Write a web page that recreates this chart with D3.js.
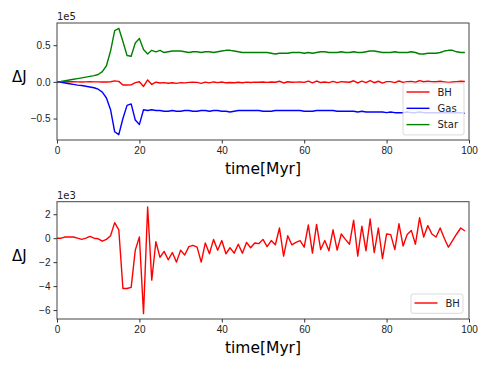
<!DOCTYPE html>
<html>
<head>
<meta charset="utf-8">
<script src="https://cdn.jsdelivr.net/npm/d3@7"></script>
<style>
  body{margin:0;background:#fff;}
  svg{font-family:"DejaVu Sans",sans-serif;}
  .tick text{font-size:10px;fill:#222;}
  .tick line{stroke:#333;}
  .domain{display:none;}
</style>
</head>
<body>
<div class="fig"></div>
<script>
/*time axis, 1 Myr steps*/
var time=d3.range(0,100);

/*BH angular momentum change, units of 1e3*/
var bh=[0,0,0.1,0.1,0.1,0,-0.1,0,0.15,0,
  -0.05,-0.25,-0.1,0.2,1.3,0.7,-4.2,-4.2,-4.1,-1.0,
  0.1,-6.3,2.6,-3.5,-0.3,-1.6,-1.1,-1.8,-1.2,-2.0,
  -1.0,-1.4,-0.7,-0.6,-0.75,-2.0,-0.4,-1.3,-0.1,-1.0,
  -0.2,-1.3,-0.8,-1.25,-0.5,-1.25,-0.35,-0.8,-0.4,-0.45,
  -0.1,-0.7,-0.2,-0.55,0.85,-1.5,0.2,-0.55,-0.35,-0.2,
  -0.75,1.1,-1.25,1.15,-0.95,-0.2,-1.05,0.7,-1.0,0.35,
  -0.1,-0.5,1.5,-1.5,1.0,-1.05,1.6,-1.2,0.85,-1.7,
  0.35,0.3,-0.95,1.2,-0.65,0.3,0.65,-0.5,1.7,0.1,
  1.05,0.35,0.1,0.85,0.0,-0.75,-0.2,0.35,0.85,0.6];

/*Gas and Star, units of 1e5*/
var gas=[0,-0.005,-0.015,-0.025,-0.035,-0.045,-0.05,-0.06,-0.07,-0.08,
  -0.10,-0.14,-0.22,-0.38,-0.68,-0.72,-0.50,-0.32,-0.30,-0.52,
  -0.58,-0.38,-0.39,-0.38,-0.39,-0.39,-0.40,-0.40,-0.39,-0.40,
  -0.40,-0.39,-0.39,-0.40,-0.40,-0.39,-0.39,-0.40,-0.39,-0.39,
  -0.40,-0.40,-0.41,-0.40,-0.39,-0.39,-0.39,-0.39,-0.39,-0.39,
  -0.40,-0.40,-0.40,-0.39,-0.39,-0.39,-0.39,-0.39,-0.39,-0.39,
  -0.40,-0.40,-0.40,-0.39,-0.39,-0.39,-0.39,-0.39,-0.40,-0.40,
  -0.40,-0.40,-0.40,-0.41,-0.40,-0.41,-0.41,-0.41,-0.41,-0.41,
  -0.42,-0.41,-0.42,-0.42,-0.42,-0.41,-0.42,-0.42,-0.41,-0.42,
  -0.42,-0.42,-0.42,-0.42,-0.42,-0.42,-0.42,-0.42,-0.42,-0.43];

var star=[0,0.005,0.015,0.025,0.035,0.045,0.055,0.065,0.075,0.085,
  0.10,0.14,0.22,0.42,0.70,0.73,0.55,0.36,0.35,0.53,
  0.59,0.44,0.38,0.43,0.41,0.43,0.40,0.41,0.42,0.42,
  0.42,0.41,0.40,0.41,0.41,0.40,0.41,0.41,0.40,0.41,
  0.42,0.43,0.43,0.42,0.41,0.40,0.40,0.40,0.40,0.40,
  0.40,0.40,0.39,0.38,0.39,0.39,0.39,0.40,0.40,0.40,
  0.39,0.40,0.39,0.40,0.41,0.41,0.40,0.40,0.40,0.41,
  0.40,0.40,0.41,0.40,0.40,0.41,0.42,0.42,0.41,0.40,
  0.40,0.40,0.41,0.40,0.40,0.40,0.41,0.40,0.38,0.38,
  0.39,0.39,0.39,0.40,0.42,0.43,0.43,0.41,0.40,0.40];

var xTicks=[0,20,40,60,80,100];
var topTicks=[-0.5,0,0.5];
var botTicks=[-6,-4,-2,0,2];

var width=490, height=368;
var left=57, right=469;

var canvas=d3.select(".fig").append("svg")
  .attr("width", width)
  .attr("height", height);

var xScale=d3.scaleLinear().domain([0,100]).range([left,right]);

/*matplotlib style 5% padding*/
function padded(arr){
  var e=d3.extent(arr), m=(e[1]-e[0])*0.05;
  return [e[0]-m, e[1]+m];
}

var minus=function(s){return s.replace("-","\u2212");};

function panel(top, bottom, domain, ticks, fmt, exp, series, legendY){
  var yScale=d3.scaleLinear().domain(domain).range([bottom, top]);
  var g=canvas.append("g");

  var line=d3.line()
    .x(function(d,i){return xScale(time[i]);})
    .y(function(d){return yScale(d);});

  g.append("defs").append("clipPath").attr("id","clip"+top)
    .append("rect").attr("x",left).attr("y",top)
    .attr("width",right-left).attr("height",bottom-top);

  series.forEach(function(s){
    g.append("path")
      .datum(s.values)
      .attr("d", line)
      .attr("clip-path","url(#clip"+top+")")
      .attr("fill","none")
      .attr("stroke", s.color)
      .attr("stroke-width",1.4)
      .attr("stroke-linejoin","round");
  });

  g.append("rect")
    .attr("x",left).attr("y",top)
    .attr("width",right-left).attr("height",bottom-top)
    .attr("fill","none").attr("stroke","#444").attr("stroke-width",1);

  g.append("g")
    .attr("transform","translate(0,"+bottom+")")
    .call(d3.axisBottom(xScale).tickValues(xTicks).tickSize(3.5).tickPadding(3));

  g.append("g")
    .attr("transform","translate("+left+",0)")
    .call(d3.axisLeft(yScale).tickValues(ticks).tickSize(3.5).tickPadding(3)
      .tickFormat(function(d){return minus(fmt(d));}));

  g.append("text").text(exp)
    .attr("x",left).attr("y",top-3)
    .style("font-size","10px").style("fill","#222");

  g.append("text").text("\u0394J")
    .attr("x",12).attr("y",(top+bottom)/2+0.5)
    .style("font-size","15px");

  g.append("text").text("time[Myr]")
    .attr("x",(left+right)/2).attr("y",bottom+34)
    .attr("text-anchor","middle")
    .style("font-size","15.5px");

  /*legend*/
  var lw=(series.length==1)? 52:61;
  var lx=(series.length==1)? 411:403;
  var lh=series.length*16.3+3;
  var lg=g.append("g");
  lg.append("rect")
    .attr("x",lx).attr("y",legendY)
    .attr("width",lw).attr("height",lh)
    .attr("rx",2)
    .attr("fill","rgba(255,255,255,0.8)")
    .attr("stroke","#d0d0d0").attr("stroke-width",0.8);
  series.forEach(function(s,i){
    var y=legendY+9+i*16.3;
    lg.append("line")
      .attr("x1",lx+3.5).attr("x2",lx+26.5)
      .attr("y1",y).attr("y2",y)
      .attr("stroke",s.color).attr("stroke-width",1.4);
    lg.append("text").text(s.name)
      .attr("x",lx+34.5).attr("y",y+3.6)
      .style("font-size","10px").style("fill","#222");
  });
}

var bhTop=bh.map(function(v){return v/100;}); // 1e3 -> 1e5 units
panel(23,140,padded(gas.concat(star)),topTicks,d3.format(".1f"),"1e5",
  [{name:"BH",values:bhTop,color:"#ff0000"},
   {name:"Gas",values:gas,color:"#0000ff"},
   {name:"Star",values:star,color:"#008000"}],83);

panel(201.7,319,padded(bh),botTicks,d3.format("d"),"1e3",
  [{name:"BH",values:bh,color:"#ff0000"}],294);
</script>
</body>
</html>
